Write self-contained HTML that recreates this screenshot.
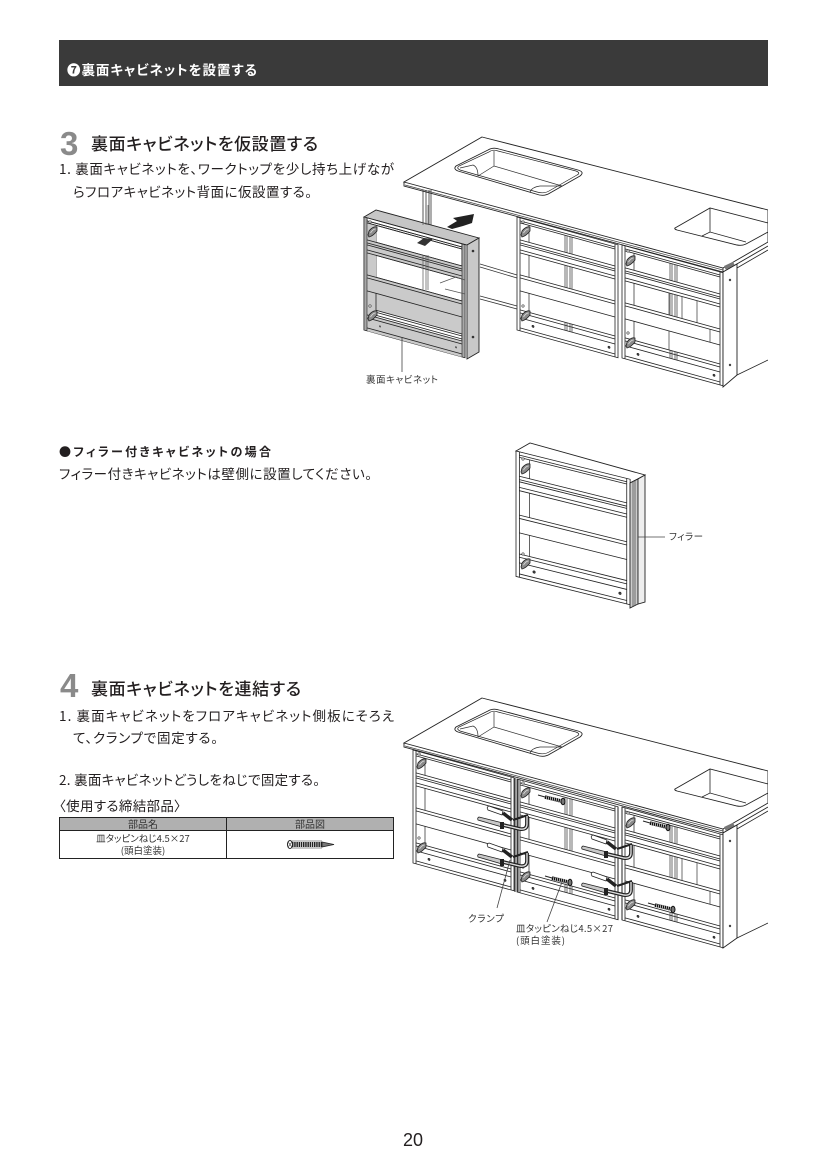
<!DOCTYPE html>
<html lang="ja"><head><meta charset="utf-8"><title>裏面キャビネットを設置する</title>
<style>
html,body{margin:0;padding:0;background:#fff}
svg{display:block}
text{font-family:"Liberation Sans","Noto Sans CJK JP",sans-serif;fill:#231f20;font-feature-settings:"palt"}
.t{font-size:13.5px;font-family:"Noto Sans CJK JP",sans-serif;font-weight:400}
.l{font-size:9.5px;fill:#333;font-family:"Noto Sans CJK JP",sans-serif;font-weight:400}
.h{font-size:17px;font-family:"Noto Sans CJK JP",sans-serif;font-weight:500}
.n{font-size:33px;font-weight:700;fill:#8a8a8a;font-family:"Liberation Sans",sans-serif}
.d line,.d path,.d rect,.d polygon,.d circle{vector-effect:non-scaling-stroke}
</style></head><body>
<svg xmlns="http://www.w3.org/2000/svg" width="827" height="1169" viewBox="0 0 827 1169">
<defs>
<g id="brk"><circle cx="2" cy="-10" r="1.200" fill="#fff" stroke="#333" stroke-width=".6"/><path d="M0 3 L1 -1 Q5 -6 9 -5 L9 -1 Q5 4 1 5Z" fill="#8a8a8a" stroke="#222" stroke-width=".8"/><path d="M2.500 1Q5 -3 7.500 -3" fill="none" stroke="#ddd" stroke-width=".8"/></g>
<g id="cab" class="d" fill="none" stroke="#222" stroke-width=".8">
<rect x="0" y="0" width="101" height="113" fill="#fff"/>
<path d="M3 0V113M98 0V113M3 3H98M3 5H98"/>
<path d="M3 22H98M3 25H98M3 27H98M3 32H98M3 35H98"/>
<path d="M3 57H98M3 60H98M3 73H98"/>
<path d="M3 92H98M3 95H98M3 100H98M3 110H98"/>
<path d="M12 5V22M12 35V57M12 73V92" stroke-width=".7"/>
<circle cx="16" cy="105" r="1" fill="#555"/><circle cx="92" cy="105" r="1" fill="#555"/>
</g>
<g id="back" class="d" fill="none" stroke="#333" stroke-width=".7"><path d="M48 5V22M50 5V22M53 5V22M55 5V22M48 35V57M50 35V57M53 35V57M55 35V57M48 100V92M50 100V92M53 100V92M55 100V92"/></g>
<g id="clamp" fill="none" stroke="#222">
<path d="M-21 10L3 16L2 20L-22 13Q-23 11 -21 10Z" fill="#c8c8c8" stroke-width=".8"/>
<path d="M-11 -1L3 4L2 8L-12 3Q-14 0 -11 -1Z" fill="#fff" stroke-width=".8"/>
<path d="M3 6L12 13" stroke-width="3.500"/>
<path d="M13 13L28 8" stroke-width="2.200"/>
<path d="M3 18L20 22Q27 23 27 17V9" stroke-width="3.800"/>
<path d="M3 18L20 22Q27 23 27 17V9" stroke="#ddd" stroke-width="1.400"/>
<path d="M2 15V22" stroke-width="4"/>
</g>
<g id="scr"><path d="M4 1L20 5" stroke="#111" stroke-width="3.600" stroke-dasharray="1.400 .6"/><path d="M-3 -1L4 1" stroke="#222" stroke-width="1"/><ellipse cx="22" cy="5.500" rx="2" ry="3.200" fill="#777" stroke="#111"/></g>
<g id="top">
<polygon points="482,137 768,210 768,242 723,268 404,182" fill="#fff" stroke="#222" stroke-width=".9"/>
<path d="M404 182V186L723 272L768 246M723 268V272" fill="none" stroke="#222" stroke-width=".9"/>
<path d="M405 185L723 270" stroke="#444" stroke-width=".7"/>
<path d="M456 166Q453 169 458 171L536 194Q544 197 550 193L580 176Q585 172 578 170L499 149Q493 147 488 150Z" fill="#fff" stroke="#222" stroke-width=".9"/>
<path d="M459 166Q456 168 460 170L537 192Q544 194 549 191L577 175Q581 173 576 171L498 151Q493 149 489 152Z" fill="none" stroke="#222" stroke-width=".7"/>
<path d="M494 151V166M478 176L494 166L562 186M460 168L473 165Q478 167 478 176M530 192Q532 187 540 186L562 186" fill="none" stroke="#333" stroke-width=".7"/>
<path d="M675 228L710 208L768 223V232L746 244Q742 246 737 245L677 230Q674 229 675 228Z" fill="#fff" stroke="#222" stroke-width=".9"/>
<path d="M710 208V232M702 236L710 232L746 242" fill="none" stroke="#222" stroke-width=".8"/>
<rect x="724" y="266" width="10" height="4" fill="#777" transform="rotate(-25 724 266)"/>
</g>
</defs>

<rect x="59" y="40" width="709" height="46" fill="#3a3a3a"/>
<text x="67" y="75" style="font-size:13.500px;font-weight:700;fill:#fff;font-family:'Noto Sans CJK JP',sans-serif" textLength="190">❼裏面キャビネットを設置する</text>

<text class="n" x="60" y="155">3</text>
<text class="h" x="91" y="150" textLength="227">裏面キャビネットを仮設置する</text>
<text class="t" x="59" y="174" textLength="335">1. 裏面キャビネットを、ワークトップを少し持ち上げなが</text>
<text class="t" x="73" y="197" textLength="239">らフロアキャビネット背面に仮設置する。</text>

<text x="59" y="456" style="font-size:12px;font-weight:700;font-family:'Noto Sans CJK JP',sans-serif" textLength="212">●フィラー付きキャビネットの場合</text>
<text class="t" x="59" y="479" textLength="313">フィラー付きキャビネットは壁側に設置してください。</text>

<text class="n" x="60" y="697">4</text>
<text class="h" x="91" y="695" textLength="210">裏面キャビネットを連結する</text>
<text class="t" x="59" y="721" textLength="335">1. 裏面キャビネットをフロアキャビネット側板にそろえ</text>
<text class="t" x="73" y="743" textLength="145">て、クランプで固定する。</text>
<text class="t" x="59" y="785" textLength="261">2. 裏面キャビネットどうしをねじで固定する。</text>
<text class="t" x="59" y="811" textLength="122">〈使用する締結部品〉</text>

<rect x="59.500" y="817.500" width="334" height="41" fill="#fff" stroke="#222"/>
<rect x="60" y="818" width="333" height="12" fill="#b0b0b0"/>
<path d="M59 830.500H394M226.500 817V859" stroke="#222" fill="none"/>
<text class="l" x="143" y="828" text-anchor="middle" style="font-size:10px">部品名</text>
<text class="l" x="310" y="828" text-anchor="middle" style="font-size:10px">部品図</text>
<text class="l" x="143" y="842" text-anchor="middle" style="font-size:9.500px">皿タッピンねじ4.5×27</text>
<text class="l" x="143" y="854" text-anchor="middle" style="font-size:9.500px">(頭白塗装)</text>
<path d="M292 844.500H322" stroke="#222" stroke-width="5" stroke-dasharray="1.500 .7"/>
<path d="M292 841H322M292 848H322" stroke="#222" stroke-width=".6"/>
<ellipse cx="290" cy="844.500" rx="2.500" ry="4" fill="#fff" stroke="#222"/>
<path d="M288.500 842.500L291.500 846.500M291.500 842.500L288.500 846.500" stroke="#222" stroke-width=".6"/>
<path d="M322 842L334 844.500L322 847Z" fill="#777" stroke="#222" stroke-width=".8"/>

<text x="413" y="1146" text-anchor="middle" style="font-size:18px">20</text>

<!-- figure 1 -->
<g stroke="#333" stroke-width=".8" fill="none">
<path d="M423 190V300M426 190V300M429 190V300M431 190V300"/>
<path d="M480 264L517 275M480 267L517 278M480 296L517 306M480 299L517 309"/>
</g>
<use href="#top"/>
<g transform="matrix(1,.275,0,1,517,217)"><use href="#cab"/><use href="#back"/></g>
<g transform="matrix(1,.275,0,1,622,245)"><use href="#cab"/><use href="#back"/><path d="M47 35V57M47 73V92M60 35V57M75 35V57M88 60V73" stroke="#333" stroke-width=".7"/></g>
<use href="#brk" x="521" y="232"/><use href="#brk" x="521" y="316"/><use href="#brk" x="626" y="261"/><use href="#brk" x="626" y="343"/>
<polygon points="723,272 737,264 737,375 723,387" fill="#fff" stroke="#222" stroke-width=".9"/>
<circle cx="730" cy="280" r="1.200" fill="#444"/><circle cx="730" cy="365" r="1.200" fill="#444"/>
<path d="M737 375L768 360M737 268L768 250" stroke="#222" stroke-width=".8" fill="none"/>
<rect x="768" y="130" width="59" height="280" fill="#fff"/>

<!-- moving cabinet -->
<polygon points="364,217 376,210 479,238 467,245" fill="#c6c6c6" stroke="#222" stroke-width=".9"/>
<polygon points="467,245 479,238 479,352 467,359" fill="#c8c8c8" stroke="#222" stroke-width=".9"/>
<g transform="matrix(1,.275,0,1,364,217)">
<use href="#cab"/>
<g class="d"><path d="M3 5H12V22H3ZM3 22H98V35H3ZM3 35H12V57H3ZM3 57H98V73H3ZM3 73H12V92H3ZM12 73H98V90H12ZM3 97H98V113H3Z" fill="#cacaca" stroke="none"/>
<path d="M3 90H12V97H3Z" fill="#cacaca" stroke="none"/>
<path d="M0 0H3V113H0ZM98 0H101V113H98Z" fill="#a8a8a8" stroke="#222" stroke-width=".6"/>
<path d="M3 22H98M3 25H98M3 27H98M3 32H98M3 35H98M3 57H98M3 60H98M3 73H98M12 90H98M3 97H98M3 100H98M3 110H98M12 73V90" fill="none" stroke="#222" stroke-width=".8"/>
<path d="M3 3H98M3 5H98" fill="none" stroke="#222" stroke-width=".8"/>
</g>
<circle cx="16" cy="105" r="1" fill="#555"/><circle cx="92" cy="105" r="1" fill="#555"/>
</g>
<g stroke="#555" stroke-width=".7" fill="none"><path d="M423 255V290M426 255V290M428 255V290M423 205V225M426 205V225M428 205V225"/><path d="M440 283L456 277L465 280M445 289L465 294"/></g>
<use href="#brk" x="368" y="232"/><use href="#brk" x="368" y="316"/>
<circle cx="473" cy="251" r="1.300" fill="#333"/><circle cx="473" cy="337" r="1.300" fill="#333"/>
<polygon points="417,243 424,238 433,239 425,246" fill="#333"/>
<polygon points="474,214 453,218 457,221 447,227 452,229 463,226 472,223" fill="#222"/>
<path d="M402 338V372" stroke="#444" stroke-width=".8"/>
<text class="l" x="366" y="383" textLength="72">裏面キャビネット</text>

<!-- filler cabinet -->
<polygon points="516,451 530,443 645,475 630,483" fill="#fff" stroke="#222" stroke-width=".9"/>
<g transform="matrix(1.130,.280,0,1.110,516,451)"><use href="#cab"/></g>
<use href="#brk" x="521" y="469"/><use href="#brk" x="521" y="564"/>
<polygon points="630,483 638,479 638,604 630,608" fill="#ccc" stroke="#222" stroke-width=".9"/>
<polygon points="638,479 645,475 645,602 638,604" fill="#eee" stroke="#222" stroke-width=".9"/>
<path d="M633 482V606M635 481V605" stroke="#444" stroke-width=".7"/>
<path d="M638 537H665" stroke="#444" stroke-width=".8"/>
<text class="l" x="669" y="540" textLength="34">フィラー</text>

<!-- figure 2 -->
<use href="#top" y="561"/>
<g transform="matrix(1,.275,0,1,413,750)"><use href="#cab"/></g>
<g transform="matrix(1,.275,0,1,517,779)"><use href="#cab"/><use href="#back"/></g>
<g transform="matrix(1,.275,0,1,622,807)"><use href="#cab"/><use href="#back"/><path d="M60 35V57M75 35V57M88 60V73" stroke="#333" stroke-width=".7"/></g>
<path d="M515 778V892M518 779V892M618 807V920M622 807V920" stroke="#222" stroke-width="1" fill="none"/>
<use href="#brk" x="417" y="764"/><use href="#brk" x="417" y="848"/><use href="#brk" x="521" y="793"/><use href="#brk" x="521" y="877"/><use href="#brk" x="626" y="823"/><use href="#brk" x="626" y="905"/>
<polygon points="723,833 737,825 737,938 723,948" fill="#fff" stroke="#222" stroke-width=".9"/>
<circle cx="730" cy="841" r="1.200" fill="#444"/><circle cx="730" cy="926" r="1.200" fill="#444"/>
<path d="M737 938L768 923M737 829L768 811" stroke="#222" stroke-width=".8" fill="none"/>
<rect x="768" y="690" width="59" height="280" fill="#fff"/>
<use href="#clamp" x="500" y="807"/><use href="#clamp" x="500" y="844"/><use href="#clamp" x="604" y="836"/><use href="#clamp" x="604" y="873"/>
<use href="#scr" x="541" y="796"/><use href="#scr" x="548" y="877"/><use href="#scr" x="646" y="822"/><use href="#scr" x="651" y="904"/>
<path d="M510 860L497 908M562 882L547 922" stroke="#444" stroke-width=".8" fill="none"/>
<text class="l" x="468" y="922" textLength="36">クランプ</text>
<text class="l" x="516" y="932" textLength="97">皿タッピンねじ4.5×27</text>
<text class="l" x="516" y="944" textLength="49">(頭白塗装)</text>
</svg>
</body></html>
